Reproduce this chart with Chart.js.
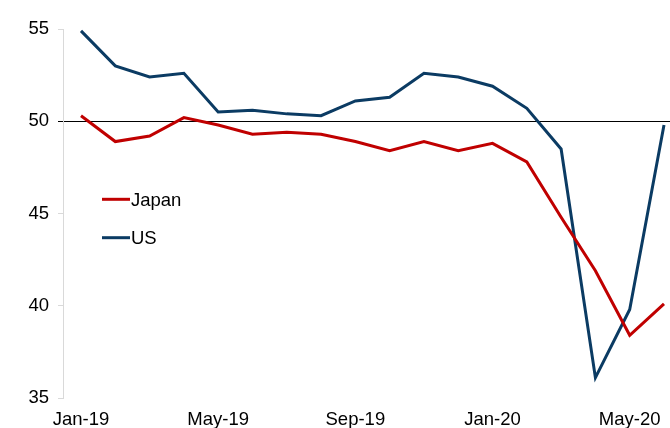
<!DOCTYPE html>
<html>
<head>
<meta charset="utf-8">
<script src="https://cdn.jsdelivr.net/npm/chart.js@4/dist/chart.umd.min.js"></script>
<style>
  html, body { margin: 0; padding: 0; background: #fff; }
  #wrap { width: 670px; height: 428px; position: relative; }
</style>
</head>
<body>
<div id="wrap"><canvas id="pmiChart"></canvas></div>
<script>
// monthly PMI readings, Jan-19 .. Jun-20
const months = ['Jan-19', 'Feb-19', 'Mar-19', 'Apr-19', 'May-19', 'Jun-19', 'Jul-19', 'Aug-19', 'Sep-19',
    'Oct-19', 'Nov-19', 'Dec-19', 'Jan-20', 'Feb-20', 'Mar-20', 'Apr-20', 'May-20', 'Jun-20'];
const japan = [50.3, 48.9, 49.2, 50.2, 49.8, 49.3, 49.4, 49.3, 48.9, 48.4, 48.9, 48.4, 48.8, 47.8, 44.8, 41.9, 38.4, 40.1];
const us = [54.9, 53.0, 52.4, 52.6, 50.5, 50.6, 50.4, 50.3, 51.1, 51.3, 52.6, 52.4, 51.9, 50.7, 48.5, 36.1, 39.8, 49.8];
const labeledMonths = [0, 4, 8, 12, 16];

const FONT = '"Liberation Sans", Arial, sans-serif';
const toPoints = (arr) => arr.map((v, i) => ({ x: i, y: v }));

// legend drawn inside the plot, below the lines on the left
const innerLegend = {
    id: 'innerLegend',
    afterDraw(chart) {
        const ctx = chart.ctx;
        const x0 = chart.chartArea.left + 39;
        const y0 = 199.3;
        ctx.save();
        ctx.font = '18.5px ' + FONT;
        ctx.textBaseline = 'alphabetic';
        chart.data.datasets.forEach((ds, i) => {
            const y = y0 + i * 38.4;
            ctx.strokeStyle = ds.borderColor;
            ctx.lineWidth = 3;
            ctx.beginPath();
            ctx.moveTo(x0, y);
            ctx.lineTo(x0 + 28, y);
            ctx.stroke();
            ctx.fillStyle = '#000';
            ctx.fillText(ds.label, x0 + 29, y + 6.5);
        });
        ctx.restore();
    }
};

new Chart(document.getElementById('pmiChart'), {
    type: 'line',
    data: {
        datasets: [
            { label: 'Japan', data: toPoints(japan), borderColor: '#C00000', borderWidth: 3, pointRadius: 0, tension: 0 },
            { label: 'US', data: toPoints(us), borderColor: '#0B3B63', borderWidth: 3, pointRadius: 0, tension: 0 }
        ]
    },
    options: {
        responsive: true,
        maintainAspectRatio: false,
        animation: false,
        layout: { padding: { top: 29, right: 0, left: 0, bottom: 0 } },
        plugins: {
            legend: { display: false },
            tooltip: { enabled: false }
        },
        scales: {
            x: {
                type: 'linear',
                min: -0.525,
                max: 17.175,
                grid: { display: false },
                border: { display: false },
                afterBuildTicks: (scale) => {
                    scale.ticks = labeledMonths.map(v => ({ value: v }));
                },
                afterFit: (scale) => { scale.height = 30; },
                ticks: {
                    autoSkip: false,
                    maxRotation: 0,
                    padding: 3,
                    color: '#000',
                    font: { family: FONT, size: 18.5 },
                    callback: (value) => months[value]
                }
            },
            y: {
                min: 35,
                max: 55,
                afterFit: (scale) => { scale.width = 63; },
                border: { display: true, color: '#D9D9D9', width: 1 },
                grid: {
                    drawOnChartArea: true,
                    tickLength: 5,
                    color: (c) => c.tick && c.tick.value === 50 ? '#000' : 'rgba(0,0,0,0)',
                    tickColor: (c) => c.tick && c.tick.value === 50 ? '#000' : '#D9D9D9'
                },
                ticks: {
                    stepSize: 5,
                    padding: 9,
                    color: '#000',
                    font: { family: FONT, size: 18.5 }
                }
            }
        }
    },
    plugins: [innerLegend]
});
</script>
</body>
</html>
